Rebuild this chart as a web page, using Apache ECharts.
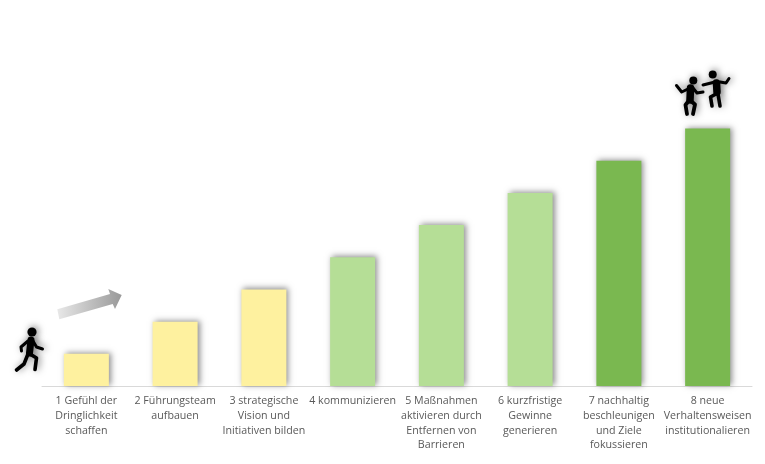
<!DOCTYPE html>
<html>
<head>
<meta charset="utf-8">
<style>html,body{margin:0;padding:0;background:#fff}#c{width:765px;height:464px}</style>
<script src="https://cdn.jsdelivr.net/npm/echarts@6/dist/echarts.min.js"></script>
</head>
<body>
<div id="c"></div>
<script>
const categories = [
  "1 Gefühl der\nDringlichkeit\nschaffen",
  "2 Führungsteam\naufbauen",
  "3 strategische\nVision und\nInitiativen bilden",
  "4 kommunizieren",
  "5 Maßnahmen\naktivieren durch\nEntfernen von\nBarrieren",
  "6 kurzfristige\nGewinne\ngenerieren",
  "7 nachhaltig\nbeschleunigen\nund Ziele\nfokussieren",
  "8 neue\nVerhaltensweisen\ninstitutionalieren"
];
const values = [1, 2, 3, 4, 5, 6, 7, 8];
const barColors = ["#FEF19F","#FEF19F","#FEF19F","#B5DE96","#B5DE96","#B5DE96","#7AB850","#7AB850"];

const iconShadow = {shadowBlur: 7, shadowColor: "rgba(0,0,0,0.5)", shadowOffsetX: 2, shadowOffsetY: -1};
function limb(points, w) {
  return {type: "polyline", shape: {points}, style: Object.assign({stroke: "#000", fill: null, lineWidth: w, lineCap: "round", lineJoin: "round"}, iconShadow)};
}
function head(cx, cy, r) {
  return {type: "circle", shape: {cx, cy, r}, style: Object.assign({fill: "#000"}, iconShadow)};
}
const runner = [
  head(32, 332, 4.6),
  limb([[31,340],[29.5,353]], 7),
  limb([[33,341],[36.5,347],[42.5,349]], 3),
  limb([[28,341],[21,347],[21.5,351]], 3),
  limb([[30,354],[36.5,358],[35,369.5]], 3.6),
  limb([[28,354],[24,364],[16.5,370]], 3.6)
];
const dancers = [
  head(693.3, 80.5, 4),
  limb([[690.5,88],[690,100]], 7.5),
  limb([[688,89],[681.7,92],[676.5,85.5]], 3),
  limb([[693,88],[697,93],[703,92]], 3),
  limb([[691,101],[695,104.5],[693,114]], 3.8),
  limb([[688.5,101],[685.5,105],[687,114]], 3.8),
  head(712.7, 74.5, 4),
  limb([[716.5,83],[717,92]], 7.5),
  limb([[715,82],[703,85]], 3),
  limb([[720,82],[726,83],[729,78.5]], 3),
  limb([[716,94],[710.5,97],[712,106]], 3.6),
  limb([[718,94],[720,106]], 3.6)
];
const arrow = {
  type: "polygon",
  shape: {points: [[57.3,309.3],[110,294],[108.3,289],[121.7,295],[115,309],[112.7,304],[59.3,319.3]]},
  style: {
    fill: new echarts.graphic.LinearGradient(0, 0, 1, 0, [
      {offset: 0, color: "#E8E8E8"}, {offset: 1, color: "#999999"}
    ])
  }
};

const chart = echarts.init(document.getElementById("c"), null, {renderer: "canvas"});
chart.setOption({
  animation: false,
  backgroundColor: "#fff",
  grid: {left: 42, right: 13, top: 128.5, bottom: 78},
  xAxis: {
    type: "category",
    data: categories,
    axisTick: {show: false},
    axisLine: {lineStyle: {color: "#D9D9D9", width: 1}},
    axisLabel: {interval: 0, color: "#595959", fontFamily: "Open Sans", fontSize: 10.67, lineHeight: 14.7, margin: 8}
  },
  yAxis: {type: "value", min: 0, max: 8, show: false, splitLine: {show: false}},
  series: [{
    type: "bar",
    data: values.map((v, i) => ({
      value: v,
      itemStyle: {
        color: barColors[i], shadowBlur: 6, shadowColor: "rgba(0,0,0,0.45)", shadowOffsetX: 2, shadowOffsetY: -1
      }
    })),
    barWidth: 45
  }],
  graphic: [arrow].concat(runner, dancers)
});
</script>
</body>
</html>
